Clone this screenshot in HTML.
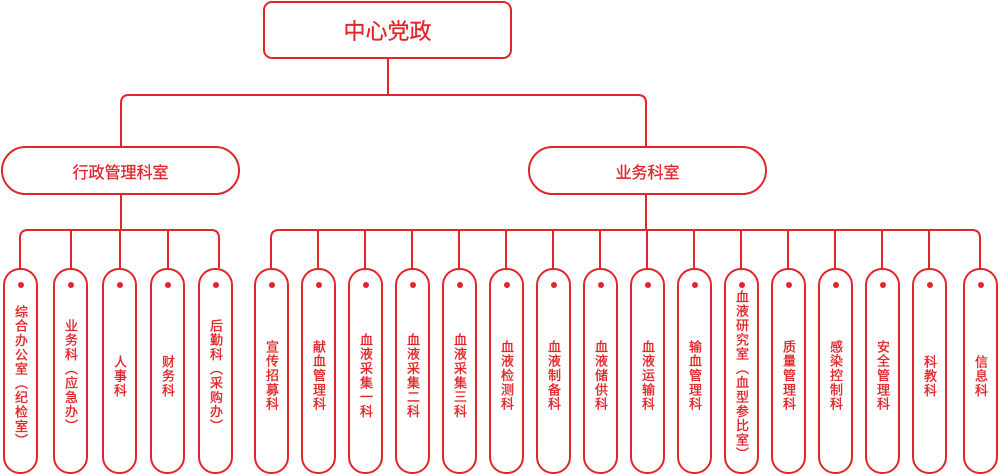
<!DOCTYPE html>
<html><head><meta charset="utf-8"><style>
body{margin:0;width:998px;height:475px;background:#fff;position:relative;overflow:hidden;font-family:"Liberation Sans","Noto Sans CJK SC",sans-serif;color:#e0262b}
.box{position:absolute;border:2px solid #e0262b;box-sizing:border-box;background:#fff;display:flex;align-items:center;justify-content:center;-webkit-text-stroke:0.3px #e0262b}
.p{position:absolute;top:268px;width:35px;height:206px;border:2px solid #e0262b;border-radius:17px;box-sizing:border-box;background:#fff}
.p i{position:absolute;left:50%;top:12px;width:6px;height:6px;margin-left:-3px;border-radius:50%;background:#e0262b}
.p span{position:absolute;left:8px;top:16px;width:15px;height:180px;writing-mode:vertical-rl;text-align:center;font-size:13px;line-height:15px;letter-spacing:1.3px;white-space:nowrap;-webkit-text-stroke:0.35px #e0262b}
</style></head><body>
<svg width="998" height="475" style="position:absolute;left:0;top:0" fill="none" stroke="#e0262b" stroke-width="2">
<path d="M388 58V95"/>
<path d="M121 146V103Q121 95 129 95H638Q646 95 646 103V146"/>
<path d="M121 194V230"/>
<path d="M20 268V238Q20 230 28 230H211Q219 230 219 238V268"/>
<path d="M71 230V268M120 230V268M168 230V268"/>
<path d="M646 194V230"/>
<path d="M271 268V238Q271 230 279 230H972Q980 230 980 238V268"/>
<path d="M318 230V268M365 230V268M412 230V268M459 230V268M506 230V268M553 230V268M600 230V268M647 230V268M694 230V268M741 230V268M788 230V268M835 230V268M882 230V268M929 230V268"/>
</svg>
<div class="box" style="left:263px;top:1px;width:249px;height:58px;border-radius:9px;font-size:22px">中心党政</div>
<div class="box" style="left:1px;top:146px;width:239px;height:49px;border-radius:25px;font-size:16px">行政管理科室</div>
<div class="box" style="left:528px;top:146px;width:239px;height:49px;border-radius:25px;font-size:16px">业务科室</div>

<div class="p" style="left:3px"><i></i><span>综合办公室（纪检室）</span></div>
<div class="p" style="left:53px"><i></i><span>业务科（应急办）</span></div>
<div class="p" style="left:102px"><i></i><span>人事科</span></div>
<div class="p" style="left:150px"><i></i><span>财务科</span></div>
<div class="p" style="left:198px"><i></i><span>后勤科（采购办）</span></div>
<div class="p" style="left:254px"><i></i><span>宣传招募科</span></div>
<div class="p" style="left:301px"><i></i><span>献血管理科</span></div>
<div class="p" style="left:348px"><i></i><span>血液采集一科</span></div>
<div class="p" style="left:395px"><i></i><span>血液采集二科</span></div>
<div class="p" style="left:442px"><i></i><span>血液采集三科</span></div>
<div class="p" style="left:489px"><i></i><span>血液检测科</span></div>
<div class="p" style="left:536px"><i></i><span>血液制备科</span></div>
<div class="p" style="left:583px"><i></i><span>血液储供科</span></div>
<div class="p" style="left:630px"><i></i><span>血液运输科</span></div>
<div class="p" style="left:677px"><i></i><span>输血管理科</span></div>
<div class="p" style="left:724px"><i></i><span>血液研究室（血型参比室）</span></div>
<div class="p" style="left:771px"><i></i><span>质量管理科</span></div>
<div class="p" style="left:818px"><i></i><span>感染控制科</span></div>
<div class="p" style="left:865px"><i></i><span>安全管理科</span></div>
<div class="p" style="left:912px"><i></i><span>科教科</span></div>
<div class="p" style="left:963px"><i></i><span>信息科</span></div>
</body></html>
